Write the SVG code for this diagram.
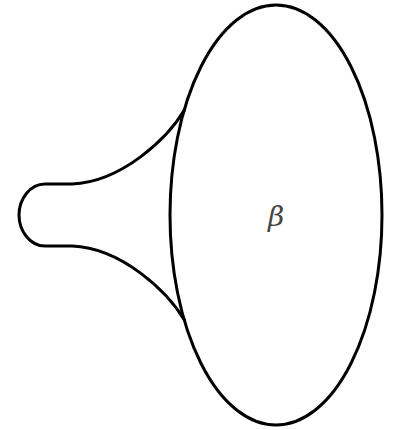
<svg xmlns="http://www.w3.org/2000/svg" width="395" height="430" viewBox="0 0 395 430">
<style>
.ln{fill:none;stroke:#000;stroke-width:3}
.lbl{font-family:"DejaVu Serif","Liberation Serif",serif;font-style:italic;font-size:28px;fill:#444}
</style>
<rect width="395" height="430" fill="#fff"/>
<g id="ellipse">
<ellipse class="ln" cx="276" cy="215" rx="106" ry="210"/>
<text class="lbl" x="276" y="226" text-anchor="middle">β</text>
</g>
<g id="horn">
<path class="ln" d="M185,109 C168,138 122,182 72,184 L45,184 C30,184 19,199 19,215 C19,231 30,246 45,246 L72,246 C122,248 168,292 185,321"/>
</g>
</svg>
